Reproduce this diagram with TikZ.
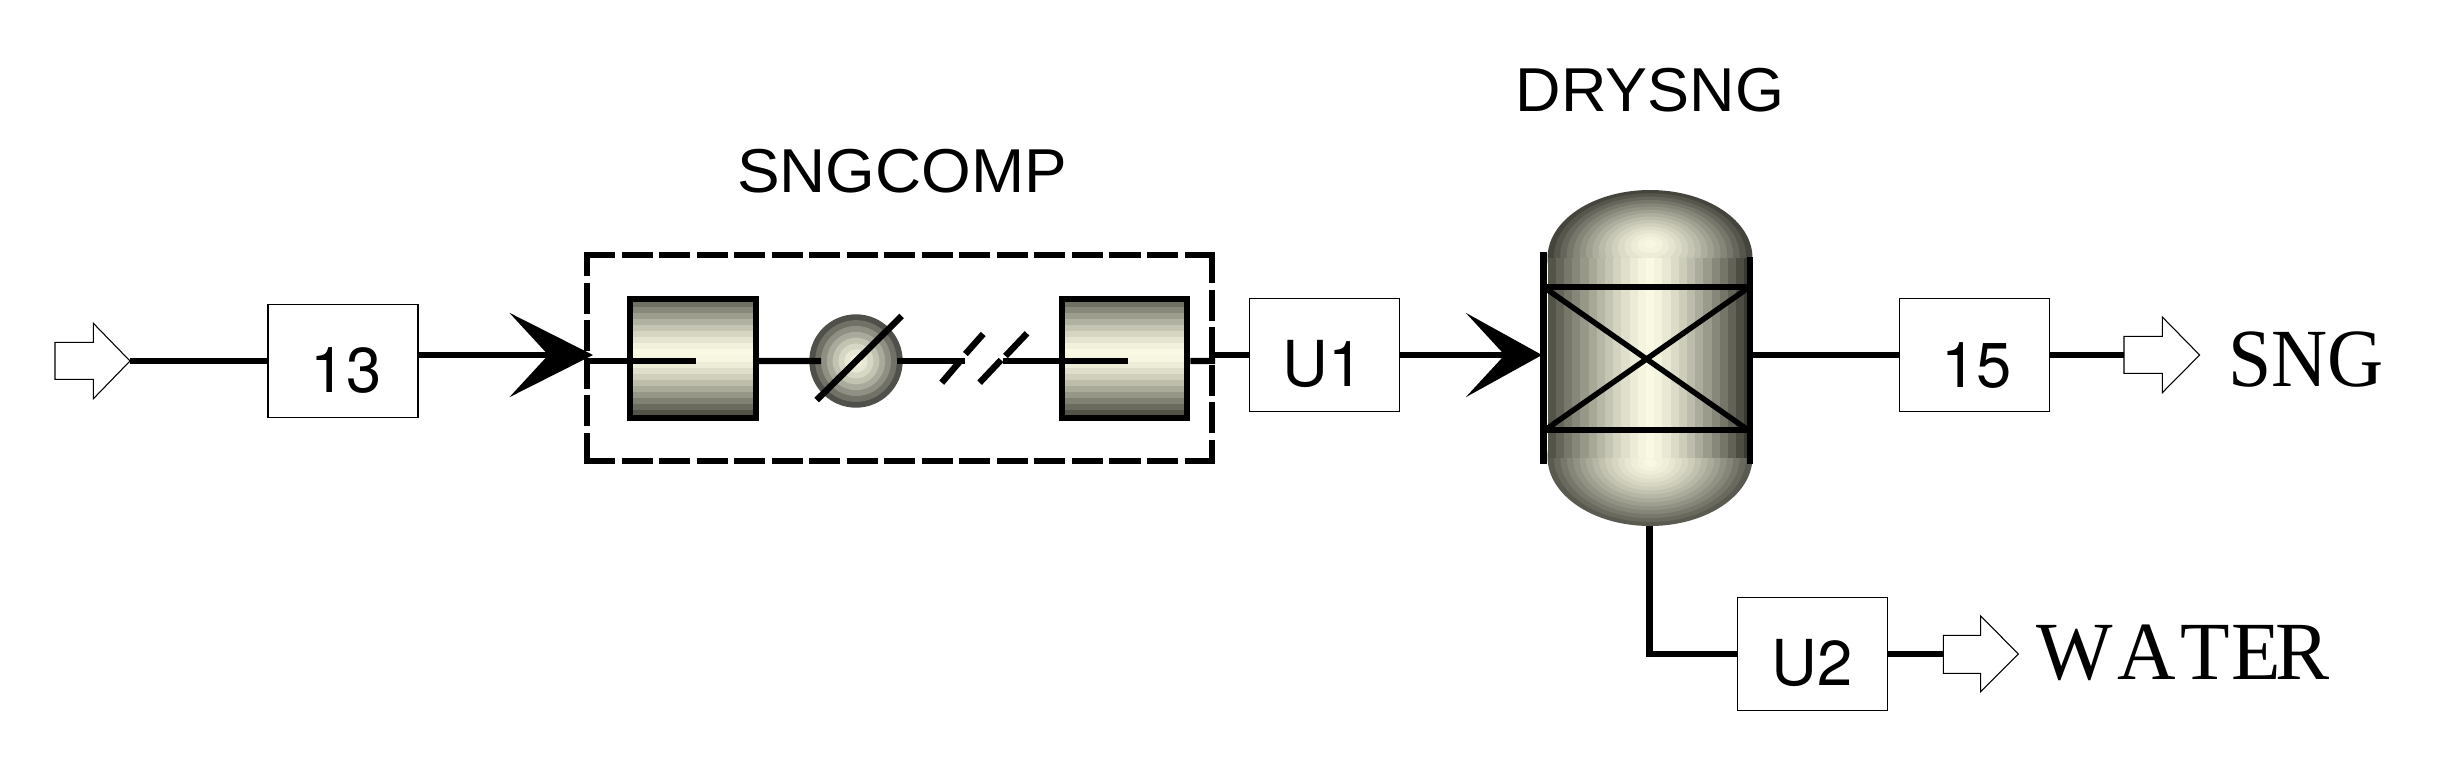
\documentclass[tikz,border=0pt]{standalone}
\usepackage{fontspec}
\usetikzlibrary{arrows.meta}
\setmainfont{Liberation Sans}
\newfontfamily\tagfont[Kerning=Off]{Liberation Serif}
\newfontfamily\boxfont{TeX Gyre Heros}
\newlength\pxu \setlength\pxu{0.75pt}
\definecolor{lightc}{HTML}{FBFBE5}
\definecolor{darkA}{HTML}{64645A}
\definecolor{darkB}{HTML}{46463C}
\definecolor{darkL}{HTML}{4A4A40}
\definecolor{darkR}{HTML}{2E2E26}
\definecolor{domeT}{HTML}{45453D}
\definecolor{domeB}{HTML}{5A5A50}
\definecolor{ringO}{HTML}{50504A}
\newcommand{\hbands}[5]{%
  \foreach \n in {0,...,18}{%
    \pgfmathsetmacro\ya{#3+\n*(#5-#3)/19}%
    \pgfmathsetmacro\ym{\ya+(#5-#3)/38}%
    \pgfmathsetmacro\yb{\ya+(#5-#3)/19+0.5}%
    \ifdim\ym pt<#4pt
      \pgfmathsetmacro\pc{100*(1-max((#4-\ym)/(#4-#3),0.01)^1.4)}%
      \fill[lightc!\pc!darkA] (#1,\ya) rectangle (#2,\yb);%
    \else
      \pgfmathsetmacro\pc{100*(1-max((\ym-#4)/(#5-#4),0.01)^1.4)}%
      \fill[lightc!\pc!darkB] (#1,\ya) rectangle (#2,\yb);%
    \fi
  }%
}
\newcommand{\shifted}[3]{\makebox[0pt]{\kern#1\pxu\kern#1\pxu\smash{\raisebox{-#2\pxu}{#3}}}}
\tikzset{
  x=0.75pt,y=-0.75pt,
  flow/.style={line width=4.8pt},
  bigflow/.style={line width=4.8pt,-{Stealth[length=62.5pt,width=63pt,inset=29pt]}},
  bigflowb/.style={line width=4.8pt,-{Stealth[length=57pt,width=63pt,inset=29pt]}},
  streambox/.style={draw,line width=0.9pt,fill=white,inner sep=0pt,minimum width=150\pxu,minimum height=113\pxu,font=\fontsize{47.5pt}{50pt}\selectfont\boxfont},
  hollow/.style={draw,line width=0.8pt,fill=white,line join=miter},
  frameblock/.style={draw,line width=4.5pt,inner sep=0pt,minimum width=125.5\pxu,minimum height=118.5\pxu},
  dashline/.style={line width=4.5pt,dash pattern=on 23.3pt off 4.85pt},
  sanslabel/.style={inner sep=0pt,anchor=base,font=\fontsize{46.5pt}{50pt}\selectfont,transform shape},
  seriflabel/.style={inner sep=0pt,anchor=base,font=\fontsize{62pt}{66pt}\selectfont\tagfont,transform shape},
}
\begin{document}
\begin{tikzpicture}
\useasboundingbox (0,0) rectangle (2456,772);
\fill[white] (0,0) rectangle (2456,772);
% shading of the compressors
\hbands{630}{756}{301}{354}{416}
\hbands{1061}{1187}{301}{354}{416}
% cooler rings
\foreach \n in {0,...,7}{
  \pgfmathsetmacro\t{1-\n/8}
  \pgfmathsetmacro\pc{100*(1-\t^1.6)+0}
  \fill[lightc!\pc!ringO] (856,361) circle [radius=46.7*\t];
}
% vessel domes
\foreach \n in {0,...,15}{
  \pgfmathsetmacro\t{1-\n/16}
  \pgfmathsetmacro\pc{100*(1-\t^1.5)}
  \pgfmathsetmacro\cy{258-15*(1-\t)}
  \fill[lightc!\pc!domeT] (1650,\cy) ellipse [x radius=102.5*\t,y radius=68*\t];
  \pgfmathsetmacro\cz{457+6*(1-\t)}
  \fill[lightc!\pc!domeB] (1650,\cz) ellipse [x radius=102.5*\t,y radius=69*\t];
}
% vessel shell bands
\foreach \n in {0,...,24}{
  \pgfmathsetmacro\xa{1547.5+\n*205/25}
  \pgfmathsetmacro\xm{\xa+4.1}
  \pgfmathsetmacro\xb{\xa+8.7}
  \ifdim\xm pt<1650pt
    \pgfmathsetmacro\pc{100*(1-max((1650-\xm)/102.5,0.01)^1.3)}
    \fill[lightc!\pc!darkL] (\xa,258) rectangle (\xb,458);
  \else
    \pgfmathsetmacro\pc{100*(1-max((\xm-1650)/102.5,0.01)^1.3)}
    \fill[lightc!\pc!darkR] (\xa,258) rectangle (\xb,458);
  \fi
}
% named points
\coordinate (inTip) at (130,361);
\coordinate (box13out) at (418,355);
\coordinate (compTip) at (593,355);
\coordinate (compIn) at (587,361);
\coordinate (stubA) at (696,361);
\coordinate (coolIn) at (821,361);
\coordinate (coolOut) at (897,361);
\coordinate (brkA) at (965,361);
\coordinate (brkB) at (1003,361);
\coordinate (stubB) at (1128,361);
\coordinate (compOut) at (1215,361);
\coordinate (bndOut) at (1212,355);
\coordinate (vesselIn) at (1542,355);
\coordinate (vesselOut) at (1752,355);
\coordinate (vesselBot) at (1649.5,526);
\coordinate (elbow) at (1649.5,654);
\coordinate (snglead) at (2124,355);
\coordinate (waterlead) at (1943.4,654);
% compressor frames
\node[frameblock] (comp1) at (693.2,358.4) {};
\node[frameblock] (comp2) at (1124.5,358.4) {};
% boundary
\coordinate (bTL) at (584,255);
\coordinate (bTR) at (1215,255);
\coordinate (bBL) at (584,461);
\coordinate (bBR) at (1215,461);
\coordinate (bLb) at (587,464);
\coordinate (bLt) at (587,252);
\coordinate (bRt) at (1212,252);
\coordinate (bRb) at (1212,464);
\draw[dashline] (bTL) -- (bTR);
\draw[dashline] (bBL) -- (bBR);
\draw[dashline] (bLb) -- (bLt);
\draw[dashline] (bRt) -- (bRb);
% stream boxes
\node[streambox] (b13) at (343,361) {\shifted{3}{31}{13}};
\node[streambox] (bU1) at (1324.3,355) {\shifted{-1}{31.5}{U1}};
\node[streambox] (b15) at (1974.8,355) {\shifted{1.5}{32}{15}};
\node[streambox] (bU2) at (1812.4,654) {\shifted{0}{31}{U2}};
% connectors
\draw[flow] (inTip) -- (b13.west);
\draw[bigflow] (box13out) -- (compTip);
\draw[flow] (compIn) -- (stubA);
\draw[flow] (comp1.east) ++(0,2.6) -- (coolIn);
\draw[flow] (coolOut) -- (brkA);
\draw[flow] (brkB) -- (stubB);
\draw[flow] (comp2.east) ++(0,2.6) -- (compOut);
\draw[flow] (bndOut) -- (bU1.west);
\draw[bigflowb] (bU1.east) -- (vesselIn);
\draw[flow] (vesselOut) -- (b15.west);
\draw[flow] (b15.east) -- (snglead);
\draw[flow,line join=miter] (vesselBot) -- (elbow) -- (bU2.west);
\draw[flow] (bU2.east) -- (waterlead);
% cooler slash and break marks
\draw[flow] (816.7,400) -- (901.7,316);
\draw[flow] (941.7,382.7) -- (959.6,361.7);
\draw[flow] (965.4,354) -- (983.2,334);
\draw[flow] (979.6,382.7) -- (1001,360);
\draw[flow] (1005.5,356) -- (1027,333.3);
% vessel lines
\draw[flow] (1543.3,251.7) -- (1543.3,464);
\draw[flow] (1749.7,257) -- (1749.7,464);
\draw[flow] (1540.7,286.7) -- (1752.7,286.7);
\draw[flow] (1540.7,429.7) -- (1752.7,429.7);
\draw[line width=4.1pt] (1545,288) -- (1748,430);
\draw[line width=4.1pt] (1748,288) -- (1545,430);
% hollow stream ends
\draw[hollow] (55,342.3) -- (93.4,342.3) -- (93.4,323.3) -- (inTip) -- (93.4,398.7) -- (93.4,379.3) -- (55,379.3) -- cycle;
\draw[hollow] (snglead) -- (2124,336.3) -- (2162.3,336.3) -- (2162.3,317) -- (2199.6,355) -- (2162.3,392.7) -- (2162.3,373.3) -- (2124,373.3) -- cycle;
\draw[hollow] (waterlead) -- (1943.4,635.3) -- (1980.6,635.3) -- (1980.6,616) -- (2018.4,654) -- (1980.6,691.7) -- (1980.6,673.3) -- (1943.4,673.3) -- cycle;
% labels
\node[sanslabel,xscale=1.03] (lblcomp) at (902,192.7) {SNGCOMP};
\node[sanslabel,xscale=1.015] (lbldry) at (1650,111.3) {DRYSNG};
\node[seriflabel,xscale=0.94] (lblsng) at (2306,386.7) {SNG};
\node[seriflabel,xscale=0.98] (lblwater) at (2182.8,679.3) {W\kern5\pxu A\kern4.1\pxu T\kern2.3\pxu E\kern-6.2\pxu R};
\end{tikzpicture}
\end{document}
